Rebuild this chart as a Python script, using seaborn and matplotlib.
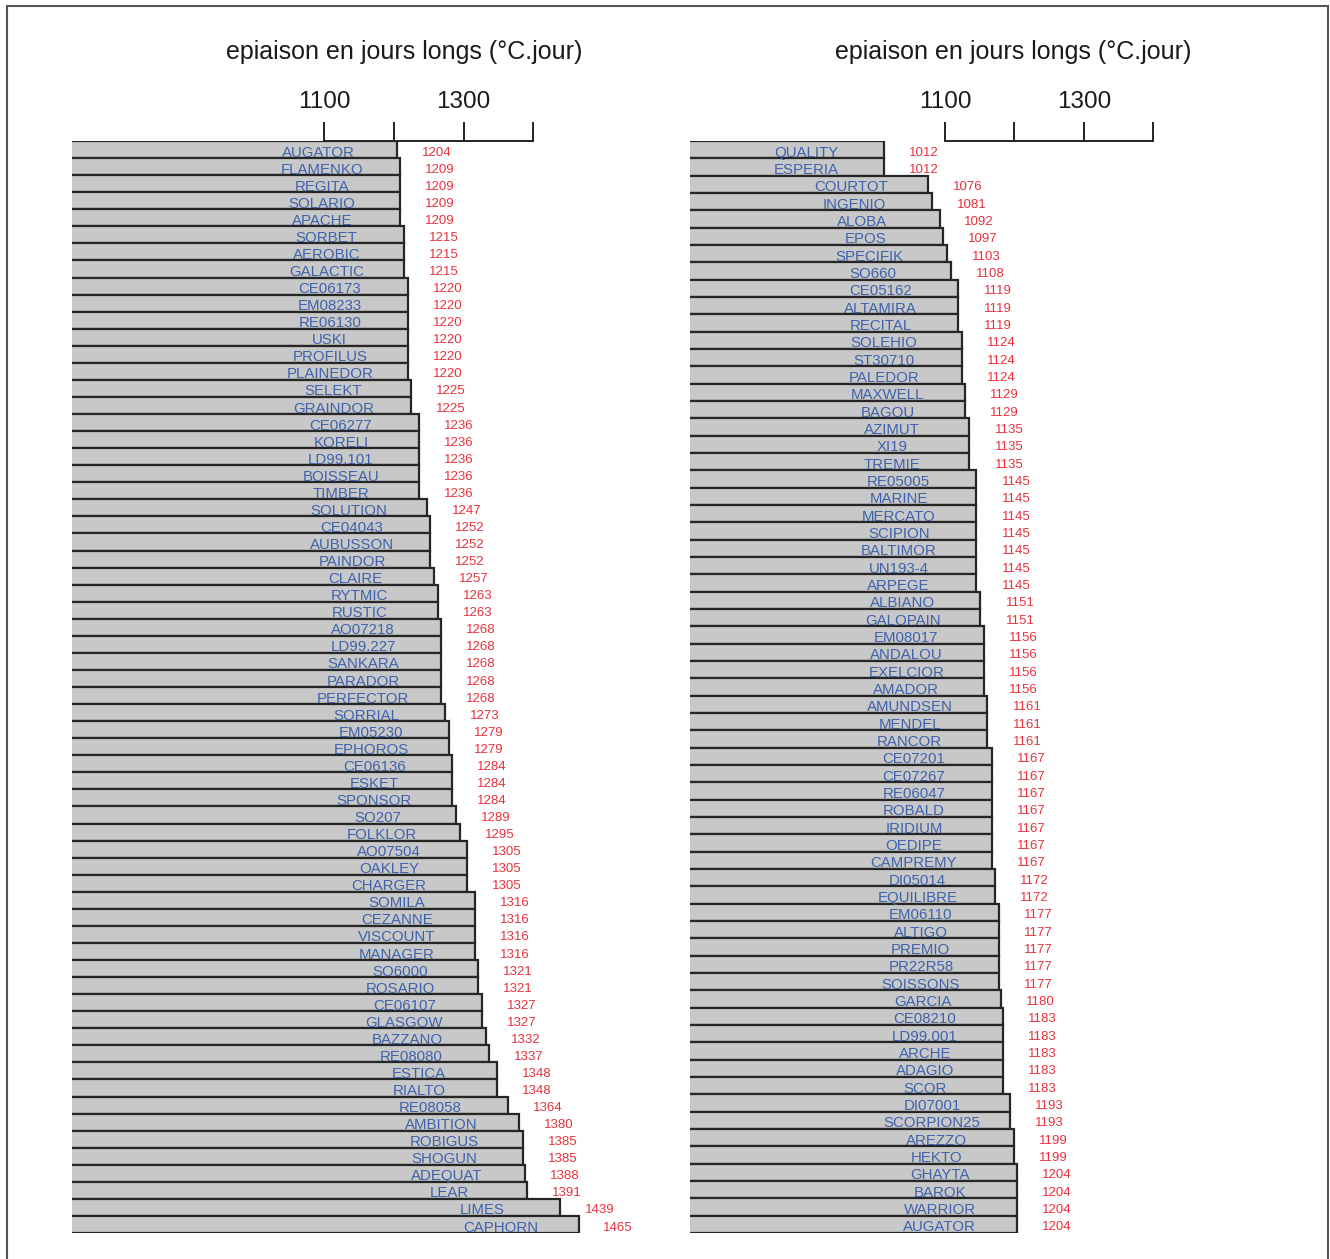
import matplotlib
matplotlib.use("Agg")
import matplotlib.pyplot as plt
import seaborn as sns
import pandas as pd
from matplotlib.patches import Rectangle

# ---- data ----
left_names = ["AUGATOR", "FLAMENKO", "REGITA", "SOLARIO", "APACHE", "SORBET", "AEROBIC", "GALACTIC",
              "CE06173", "EM08233", "RE06130", "USKI", "PROFILUS", "PLAINEDOR", "SELEKT", "GRAINDOR",
              "CE06277", "KORELI", "LD99.101", "BOISSEAU", "TIMBER", "SOLUTION", "CE04043", "AUBUSSON",
              "PAINDOR", "CLAIRE", "RYTMIC", "RUSTIC", "AO07218", "LD99.227", "SANKARA", "PARADOR",
              "PERFECTOR", "SORRIAL", "EM05230", "EPHOROS", "CE06136", "ESKET", "SPONSOR", "SO207",
              "FOLKLOR", "AO07504", "OAKLEY", "CHARGER", "SOMILA", "CEZANNE", "VISCOUNT", "MANAGER",
              "SO6000", "ROSARIO", "CE06107", "GLASGOW", "BAZZANO", "RE08080", "ESTICA", "RIALTO",
              "RE08058", "AMBITION", "ROBIGUS", "SHOGUN", "ADEQUAT", "LEAR", "LIMES", "CAPHORN"]
left_values = [1204, 1209, 1209, 1209, 1209, 1215, 1215, 1215,
               1220, 1220, 1220, 1220, 1220, 1220, 1225, 1225,
               1236, 1236, 1236, 1236, 1236, 1247, 1252, 1252,
               1252, 1257, 1263, 1263, 1268, 1268, 1268, 1268,
               1268, 1273, 1279, 1279, 1284, 1284, 1284, 1289,
               1295, 1305, 1305, 1305, 1316, 1316, 1316, 1316,
               1321, 1321, 1327, 1327, 1332, 1337, 1348, 1348,
               1364, 1380, 1385, 1385, 1388, 1391, 1439, 1465]

right_names = ["QUALITY", "ESPERIA", "COURTOT", "INGENIO", "ALOBA", "EPOS", "SPECIFIK", "SO660",
               "CE05162", "ALTAMIRA", "RECITAL", "SOLEHIO", "ST30710", "PALEDOR", "MAXWELL", "BAGOU",
               "AZIMUT", "XI19", "TREMIE", "RE05005", "MARINE", "MERCATO", "SCIPION", "BALTIMOR",
               "UN193-4", "ARPEGE", "ALBIANO", "GALOPAIN", "EM08017", "ANDALOU", "EXELCIOR", "AMADOR",
               "AMUNDSEN", "MENDEL", "RANCOR", "CE07201", "CE07267", "RE06047", "ROBALD", "IRIDIUM",
               "OEDIPE", "CAMPREMY", "DI05014", "EQUILIBRE", "EM06110", "ALTIGO", "PREMIO", "PR22R58",
               "SOISSONS", "GARCIA", "CE08210", "LD99.001", "ARCHE", "ADAGIO", "SCOR", "DI07001",
               "SCORPION25", "AREZZO", "HEKTO", "GHAYTA", "BAROK", "WARRIOR", "AUGATOR"]
right_values = [1012, 1012, 1076, 1081, 1092, 1097, 1103, 1108,
                1119, 1119, 1119, 1124, 1124, 1124, 1129, 1129,
                1135, 1135, 1135, 1145, 1145, 1145, 1145, 1145,
                1145, 1145, 1151, 1151, 1156, 1156, 1156, 1156,
                1161, 1161, 1161, 1167, 1167, 1167, 1167, 1167,
                1167, 1167, 1172, 1172, 1177, 1177, 1177, 1177,
                1177, 1180, 1183, 1183, 1183, 1183, 1183, 1193,
                1193, 1199, 1199, 1204, 1204, 1204, 1204]

tick_values = [1100, 1200, 1300, 1400]
tick_labels = ["1100", "", "1300", ""]
axis_title = "epiaison en jours longs (°C.jour)"

# ---- style ----
sns.set_style("white")
plt.rcParams['font.family'] = ['Liberation Sans', 'DejaVu Sans']

W, H = 1330, 1259
fig = plt.figure(figsize=(W / 100, H / 100), dpi=100)
fig.patch.set_facecolor("white")

BAR_FILL = "#c8c8c8"
BAR_EDGE = "#262626"
NAME_COL = "#3f62ad"
VAL_COL = "#e8323c"

panels = [
    dict(names=left_names, values=left_values, left_px=72, xmin=738, pxper=0.6967, title_px=404),
    dict(names=right_names, values=right_values, left_px=690, xmin=732, pxper=0.6933, title_px=1013),
]

top_px, bot_px = 141, 1233
for p in panels:
    xmax = 1500
    width_px = (xmax - p["xmin"]) * p["pxper"]
    ax = fig.add_axes([p["left_px"] / W, 1 - bot_px / H, width_px / W, (bot_px - top_px) / H])
    df = pd.DataFrame({"name": p["names"], "value": p["values"]})
    sns.barplot(data=df, x="value", y="name", orient="h", ax=ax, color=BAR_FILL,
                saturation=1, width=1.0, edgecolor=BAR_EDGE, linewidth=1.6)
    n = len(p["names"])
    ax.set_xlim(p["xmin"], xmax)
    ax.set_ylim(n - 0.5, -0.5)
    ax.set_ylabel("")
    ax.set_xlabel("")
    ax.set_yticks([])
    for s in ["left", "right", "bottom"]:
        ax.spines[s].set_visible(False)
    ax.spines["top"].set_visible(True)
    ax.spines["top"].set_bounds(1100, 1400)
    ax.spines["top"].set_color("#222222")
    ax.spines["top"].set_linewidth(1.4)
    ax.xaxis.set_ticks_position("top")
    ax.xaxis.set_label_position("top")
    ax.set_xticks(tick_values)
    ax.set_xticklabels(tick_labels)
    ax.tick_params(axis="x", direction="out", length=14, width=1.4, color="#222222",
                   pad=6, labelsize=17.5, labelcolor="#1a1a1a")
    for i, (nm, v) in enumerate(zip(p["names"], p["values"])):
        ax.text(v - 112, i + 0.18, nm, ha="center", va="center", fontsize=10.8, color=NAME_COL,
                clip_on=False)
        ax.text(v + 57, i + 0.18, str(v), ha="center", va="center", fontsize=9.5, color=VAL_COL,
                clip_on=False)
    fig.text(p["title_px"] / W, 1 - 52 / H, axis_title, ha="center", va="center",
             fontsize=18, color="#1a1a1a")

# outer frame
fig.patches.append(Rectangle((7 / W, -0.05), (1328 - 7) / W, 1.05 - 6 / H,
                             transform=fig.transFigure, fill=False,
                             edgecolor="#555555", linewidth=1.5))

fig.savefig("out.png", dpi=100, facecolor="white")
